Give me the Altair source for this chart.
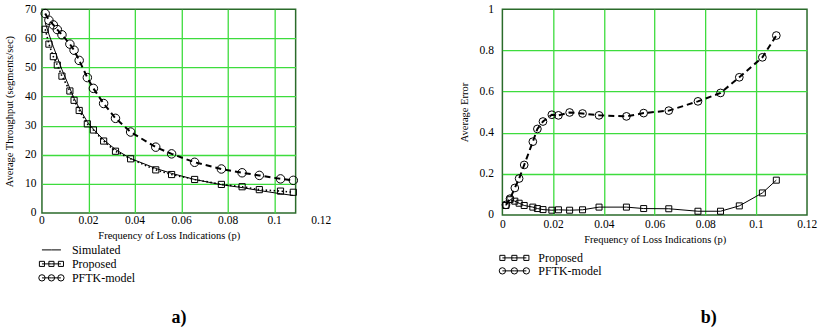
import altair as alt
import pandas as pd

FONT = "Liberation Serif, Times New Roman, Times, serif"
GRID = "#3ddc3d"
FRAME = "#2b6b2b"

# ---- data ----
p = [0.0014, 0.0030, 0.0049, 0.0066, 0.0086, 0.0120, 0.0138, 0.0160, 0.0195, 0.0221,
     0.0265, 0.0316, 0.0381, 0.0489, 0.0557, 0.0656, 0.0771, 0.0860, 0.0934, 0.1025, 0.1080]
thr_sim = [65.3, 61.4, 57.1, 53.5, 49.2, 42.8, 39.4, 36.0, 31.3, 28.8,
           25.1, 21.8, 18.7, 15.3, 13.6, 11.5, 9.7, 8.7, 7.7, 6.6, 6.0]
thr_prop = [63.1, 58.0, 53.7, 50.8, 47.0, 41.9, 38.7, 35.2, 30.6, 28.5,
            24.7, 21.2, 18.6, 14.8, 13.2, 11.5, 9.8, 9.0, 8.0, 7.5, 7.1]
thr_pftk = [68.5, 66.2, 64.6, 63.0, 61.2, 58.0, 55.9, 52.4, 46.5, 42.8,
            37.6, 32.5, 27.8, 22.6, 20.3, 17.4, 15.1, 13.8, 12.9, 11.7, 11.2]
err_prop = [0.046, 0.074, 0.067, 0.057, 0.046, 0.038, 0.031, 0.026, 0.023, 0.025,
            0.023, 0.025, 0.038, 0.038, 0.031, 0.030, 0.018, 0.018, 0.044, 0.107, 0.169]
err_pftk = [0.049, 0.079, 0.131, 0.177, 0.243, 0.356, 0.418, 0.454, 0.487, 0.484,
            0.498, 0.493, 0.484, 0.479, 0.495, 0.507, 0.552, 0.593, 0.669, 0.766, 0.872]

x_ticks = [0, 0.02, 0.04, 0.06, 0.08, 0.1, 0.12]
thr_ticks = [0, 10, 20, 30, 40, 50, 60, 70]
err_ticks = [0, 0.2, 0.4, 0.6, 0.8, 1]

legend_a = ["Simulated", "Proposed", "PFTK-model"]
legend_b = ["Proposed", "PFTK-model"]
x_title = "Frequency of Loss Indications (p)"

# ---- tables ----
thr = pd.DataFrame({"p": p, "sim": thr_sim, "prop": thr_prop, "pftk": thr_pftk})
err = pd.DataFrame({"p": p, "prop": err_prop, "pftk": err_pftk})
ticks_df = pd.DataFrame({"t": x_ticks})


def grid_color(lo, hi):
    return {"condition": {"test": f"datum.value <= {lo} || datum.value >= {hi}",
                          "value": "transparent"}, "value": GRID}


# ---------------- panel a ----------------
W1, H1 = 254, 204
xa = alt.Scale(domain=[0, 0.109], nice=False)
ya = alt.Scale(domain=[0, 70], nice=False)
ax_xa = alt.Axis(values=[0.02, 0.04, 0.06, 0.08, 0.1], labels=False, ticks=False,
                 domain=False, grid=True, gridColor=GRID, gridWidth=1.3,
                 title=x_title, titlePadding=18)
ax_ya = alt.Axis(values=thr_ticks, tickCount=8, format="d", ticks=False, domain=False, grid=True,
                 gridColor=grid_color(0, 70), gridWidth=1.3, labelPadding=6,
                 labelOverlap=False, labelBound=False,
                 title="Average Throughput (segments/sec)", titlePadding=10)


def enc_a(field):
    return dict(x=alt.X("p:Q", scale=xa, axis=ax_xa),
                y=alt.Y(f"{field}:Q", scale=ya, axis=ax_ya))


base_a = alt.Chart(thr)
sim_line = base_a.mark_line(color="black", strokeWidth=1).encode(**enc_a("sim"))
prop_line_a = base_a.mark_line(color="black", strokeWidth=1.6, strokeDash=[1.5, 2.5]).encode(**enc_a("prop"))
prop_pts_a = base_a.mark_point(shape="square", filled=False, color="black", size=38,
                               strokeWidth=1, opacity=1).encode(**enc_a("prop"))
pftk_line_a = base_a.mark_line(color="black", strokeWidth=2, strokeDash=[6, 4]).encode(**enc_a("pftk"))
pftk_pts_a = base_a.mark_point(shape="circle", filled=False, color="black", size=72,
                               strokeWidth=1, opacity=1).encode(**enc_a("pftk"))
tick_text_a = alt.Chart(ticks_df).mark_text(font=FONT, fontSize=11.5, baseline="middle",
                                            color="black").encode(
    x=alt.X("t:Q", scale=xa, axis=ax_xa), y=alt.value(H1 + 8), text=alt.Text("t:Q", format="~g"))

plot_a = alt.layer(sim_line, prop_line_a, prop_pts_a, pftk_line_a, pftk_pts_a, tick_text_a).properties(
    width=W1, height=H1, view=alt.ViewBackground(stroke=FRAME, strokeWidth=1.5))

# ---------------- panel b ----------------
W2, H2 = 305, 206
xb = alt.Scale(domain=[0, 0.1201], nice=False)
yb = alt.Scale(domain=[0, 1], nice=False)
ax_xb = alt.Axis(values=x_ticks, tickCount=7, format="~g", ticks=False, domain=False, grid=True,
                 gridColor=grid_color(0, 0.1199), gridWidth=1.3, labelPadding=4,
                 labelOverlap=False, labelFlush=False, labelBound=False,
                 title=x_title, titlePadding=4)
ax_yb = alt.Axis(values=err_ticks, tickCount=6, format="~g", ticks=False, domain=False, grid=True,
                 gridColor=grid_color(0, 1), gridWidth=1.3, labelPadding=9,
                 labelOverlap=False, labelBound=False,
                 title="Average Error", titlePadding=10)


def enc_b(field):
    return dict(x=alt.X("p:Q", scale=xb, axis=ax_xb),
                y=alt.Y(f"{field}:Q", scale=yb, axis=ax_yb))


base_b = alt.Chart(err)
prop_line_b = base_b.mark_line(color="black", strokeWidth=1).encode(**enc_b("prop"))
prop_pts_b = base_b.mark_point(shape="square", filled=False, color="black", size=36,
                               strokeWidth=1, opacity=1).encode(**enc_b("prop"))
pftk_line_b = base_b.mark_line(color="black", strokeWidth=2, strokeDash=[6, 4]).encode(**enc_b("pftk"))
pftk_pts_b = base_b.mark_point(shape="circle", filled=False, color="black", size=60,
                               strokeWidth=1, opacity=1).encode(**enc_b("pftk"))

plot_b = alt.layer(prop_line_b, prop_pts_b, pftk_line_b, pftk_pts_b).properties(
    width=W2, height=H2, view=alt.ViewBackground(stroke=FRAME, strokeWidth=1.5))


# ---------------- legends ----------------
def legend(names, step, xrange, text_x):
    rows = pd.DataFrame([{"name": n, "i": i} for n in names for i in range(3)])
    lab = pd.DataFrame({"name": names})
    xs = alt.Scale(domain=[0, 2], range=xrange)
    ys = alt.Scale(type="point", domain=names, padding=0)
    base = alt.Chart(rows)
    line = base.mark_line(color="black", strokeWidth=1).encode(
        x=alt.X("i:Q", scale=xs, axis=None), y=alt.Y("name:N", scale=ys, axis=None),
        detail="name:N")
    sq = base.transform_filter(alt.datum.name == "Proposed").mark_point(
        shape="square", filled=False, color="black", size=26, strokeWidth=1, opacity=1).encode(
        x=alt.X("i:Q", scale=xs, axis=None), y=alt.Y("name:N", scale=ys, axis=None))
    ci = base.transform_filter(alt.datum.name == "PFTK-model").mark_point(
        shape="circle", filled=False, color="black", size=40, strokeWidth=1, opacity=1).encode(
        x=alt.X("i:Q", scale=xs, axis=None), y=alt.Y("name:N", scale=ys, axis=None))
    txt = alt.Chart(lab).mark_text(font=FONT, fontSize=12, align="left", baseline="middle",
                                   color="black").encode(
        x=alt.value(text_x), y=alt.Y("name:N", scale=ys, axis=None), text="name:N")
    return alt.layer(line, sq, ci, txt).properties(
        width=xrange[1] + 4, height=step * (len(names) - 1),
        view=alt.ViewBackground(stroke="transparent"))


leg_a = legend(legend_a, 14, [0, 19], 30)
leg_b = legend(legend_b, 13, [0, 24], 36)

panel_a = alt.vconcat(plot_a, leg_a, spacing=0).properties(
    title=alt.TitleParams("a)", orient="bottom", anchor="middle", font=FONT, fontSize=18,
                          fontWeight="bold", offset=25, dx=11))
panel_b = alt.vconcat(plot_b, leg_b, spacing=5).properties(
    title=alt.TitleParams("b)", orient="bottom", anchor="middle", font=FONT, fontSize=18,
                          fontWeight="bold", offset=32, dx=71))

chart = alt.hconcat(panel_a, panel_b, spacing=125).properties(
    padding={"left": 3, "top": 2, "right": 5, "bottom": 0},
    background="white",
).configure_axis(
    labelFont=FONT, titleFont=FONT, labelFontSize=11.5, titleFontSize=10.5,
    titleFontWeight="normal", labelColor="black", titleColor="black",
).configure_concat(spacing=0)

chart.save("out.html", embed_options={"renderer": "svg", "actions": False})
